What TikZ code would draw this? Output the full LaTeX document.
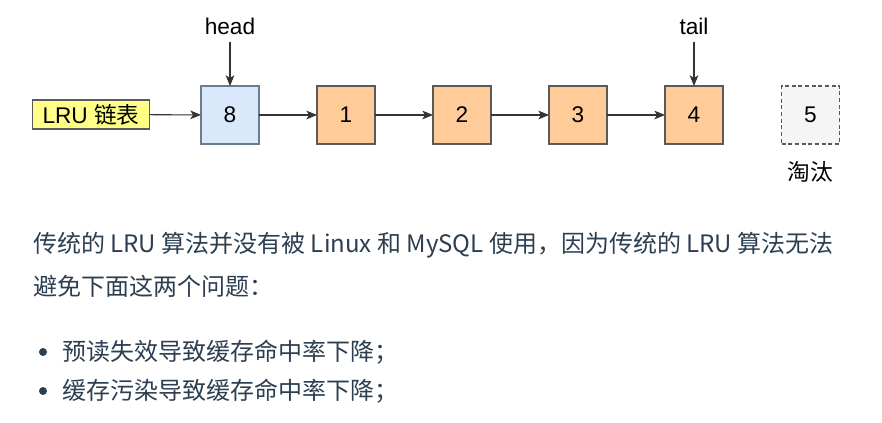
\documentclass[tikz,border=0pt]{standalone}
\usepackage{fontspec}
\setmainfont{Liberation Sans}
\newfontfamily\cjk{Noto Sans CJK SC}
\usetikzlibrary{positioning,arrows.meta}
\definecolor{NodeBlue}{HTML}{DAE8FC}
\definecolor{NodeBlueLine}{HTML}{6C7C8F}
\definecolor{NodeOrange}{HTML}{FFCC99}
\definecolor{NodeLine}{HTML}{5A5A5A}
\definecolor{TagYellow}{HTML}{FFFF88}
\definecolor{ArrowGray}{HTML}{333333}
\definecolor{GhostGray}{HTML}{F5F5F5}
\definecolor{TextInk}{HTML}{2C3E50}

\begin{document}
\begin{tikzpicture}[
    x=0.75pt, y=-0.75pt,
    node distance=43.5pt,
    cell/.style={draw=NodeLine, line width=0.8pt, minimum width=43.5pt, minimum height=43.5pt,
      inner sep=0pt, outer sep=0pt, font=\fontsize{17pt}{19pt}\selectfont},
    headcell/.style={cell, fill=NodeBlue, draw=NodeBlueLine},
    listcell/.style={cell, fill=NodeOrange},
    dropcell/.style={cell, fill=GhostGray, dash pattern=on 3pt off 2pt},
    tag/.style={draw=NodeLine, line width=0.8pt, fill=TagYellow, minimum width=87.75pt,
      minimum height=21.75pt, inner sep=0pt, outer sep=0pt, font=\fontsize{17pt}{19pt}\selectfont},
    pointer/.style={font=\fontsize{17pt}{19pt}\selectfont, inner sep=0pt},
    arrow/.style={-{Stealth[length=8pt,width=6.5pt,inset=2pt]}, line width=0.8pt, draw=ArrowGray},
    para/.style={anchor=west, inner sep=0pt, text=TextInk, font=\cjk\fontsize{18pt}{21pt}\selectfont}
  ]
    \useasboundingbox (0,0) rectangle (882,423);
    % linked list
    \node[tag] (lru) at (91,114.5) {LRU {\cjk 链表}};
    \node[headcell] (n8) at (230,115) {8};
    \node[listcell, right=of n8] (n1) {1};
    \node[listcell, right=of n1] (n2) {2};
    \node[listcell, right=of n2] (n3) {3};
    \node[listcell, right=of n3] (n4) {4};
    \node[dropcell] (n5) at (810.5,115) {5};
    \node[font=\cjk\fontsize{17pt}{19pt}\selectfont, inner sep=0pt] (evict) at (810.5,172) {淘汰};
    \node[pointer] (head) at (230,26) {head};
    \node[pointer] (tail) at (694,26) {tail};
    \coordinate (hs) at (230,42);
    \coordinate (ts) at (694,42);
    \draw[arrow] (lru) -- (n8);
    \draw[arrow] (n8) -- (n1);
    \draw[arrow] (n1) -- (n2);
    \draw[arrow] (n2) -- (n3);
    \draw[arrow] (n3) -- (n4);
    \draw[arrow] (hs) -- (n8.north);
    \draw[arrow] (ts) -- (n4.north);
    % text below
    \node[para] (line1) at (33,245) {传统的 LRU 算法并没有被 Linux 和 MySQL 使用，因为传统的 LRU 算法无法};
    \node[para] (line2) at (33,286) {避免下面这两个问题：};
    \node[para] (item1) at (62,352) {预读失效导致缓存命中率下降；};
    \node[para] (item2) at (62,391) {缓存污染导致缓存命中率下降；};
    \fill[TextInk] (43,352) circle (3pt);
    \fill[TextInk] (43,391) circle (3pt);
\end{tikzpicture}
\end{document}
